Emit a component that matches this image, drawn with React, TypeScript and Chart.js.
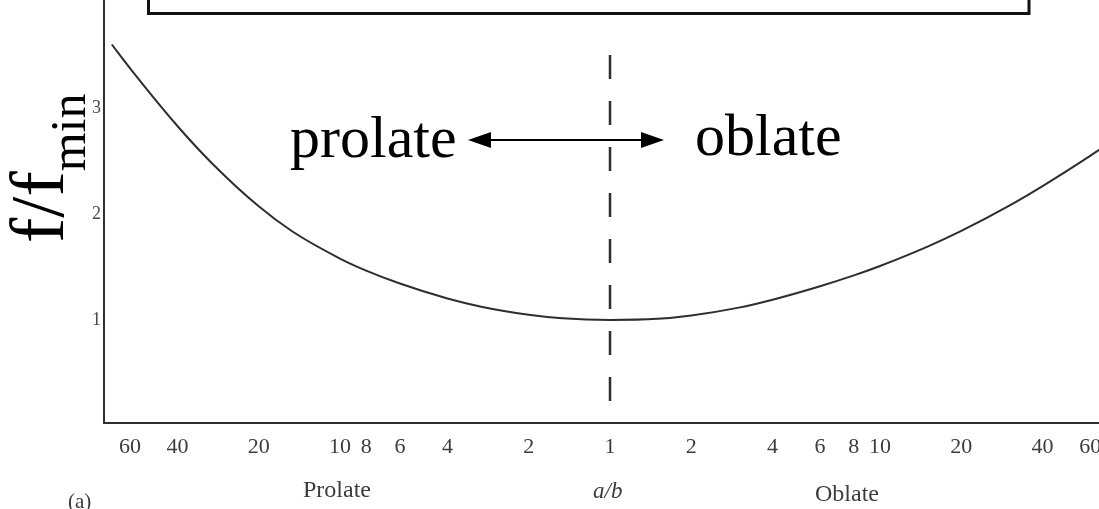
import React, { useEffect, useRef } from "react";
import { Chart, registerables } from "chart.js";

Chart.register(...registerables);

// Frequency ratio f/f_min against the axis ratio a/b, prolate side and oblate side
const prolateRatio = [70, 60, 40, 30, 20, 15, 10, 8, 6, 4, 3, 2, 1.5, 1];
const prolateFreq = [3.6, 3.377, 2.831, 2.487, 2.073, 1.835, 1.58, 1.466, 1.344, 1.203, 1.126, 1.05, 1.016, 1.0];
const oblateRatio = [1.5, 2, 3, 4, 6, 8, 10, 15, 20, 30, 40, 60, 65];
const oblateFreq = [1.011, 1.043, 1.117, 1.192, 1.319, 1.421, 1.51, 1.693, 1.841, 2.077, 2.264, 2.549, 2.609];

// Axis ratios labelled on both halves of the a/b axis
const tickRatios = [60, 40, 20, 10, 8, 6, 4, 2];
const yTicks = [1, 2, 3];

// The spherical case a/b = 1, marked by the dashed divider
const dividerTop = 3.5;

const SERIF = "'Liberation Serif', 'Times New Roman', serif";

// Prolate values sit left of centre, oblate values right, on a log10 axis
const toAxis = (ratio: number, side: "prolate" | "oblate") =>
  side === "prolate" ? -Math.log10(ratio) : Math.log10(ratio);

const xTicks = [
  ...tickRatios.map((r) => ({ pos: toAxis(r, "prolate"), label: String(r) })),
  { pos: 0, label: "1" },
  ...[...tickRatios].reverse().map((r) => ({ pos: toAxis(r, "oblate"), label: String(r) })),
];

const curvePoints = [
  ...prolateRatio.map((r, i) => ({ x: toAxis(r, "prolate"), y: prolateFreq[i] })),
  ...oblateRatio.map((r, i) => ({ x: toAxis(r, "oblate"), y: oblateFreq[i] })),
];

const overlay = {
  id: "overlay",
  afterDraw(chart: Chart) {
    const ctx = chart.ctx;
    ctx.save();

    // Open frame running off the top edge
    ctx.strokeStyle = "#111";
    ctx.lineWidth = 3;
    ctx.strokeRect(148.5, -6, 880.5, 19.5);

    // Region names and the double-headed arrow between them
    ctx.fillStyle = "#000";
    ctx.textBaseline = "alphabetic";
    ctx.textAlign = "left";
    ctx.font = `60px ${SERIF}`;
    ctx.fillText("prolate", 290, 157);
    ctx.fillText("oblate", 695, 155);

    const ay = 140;
    ctx.strokeStyle = "#000";
    ctx.lineWidth = 2;
    ctx.beginPath();
    ctx.moveTo(485, ay);
    ctx.lineTo(648, ay);
    ctx.stroke();
    ctx.beginPath();
    ctx.moveTo(468, ay);
    ctx.lineTo(491, ay - 8);
    ctx.lineTo(491, ay + 8);
    ctx.closePath();
    ctx.fill();
    ctx.beginPath();
    ctx.moveTo(664, ay);
    ctx.lineTo(641, ay - 8);
    ctx.lineTo(641, ay + 8);
    ctx.closePath();
    ctx.fill();

    // Vertical axis title f/f_min
    ctx.save();
    ctx.translate(63, 243);
    ctx.rotate(-Math.PI / 2);
    ctx.font = `76px ${SERIF}`;
    ctx.fillText("f/f", 0, 0);
    const w = ctx.measureText("f/f").width;
    ctx.font = `50px ${SERIF}`;
    ctx.fillText("min", w, 22);
    ctx.restore();

    // Labels under the a/b axis
    ctx.fillStyle = "#3c3c3c";
    ctx.font = `24px ${SERIF}`;
    ctx.fillText("Prolate", 303, 497);
    ctx.fillText("Oblate", 815, 501);
    ctx.font = `italic 23px ${SERIF}`;
    ctx.fillText("a/b", 593, 498);
    ctx.font = `21px ${SERIF}`;
    ctx.fillText("(a)", 68, 508);

    ctx.restore();
  },
};

export default function App() {
  const canvasRef = useRef<HTMLCanvasElement | null>(null);

  useEffect(() => {
    if (!canvasRef.current) return;
    const chart = new Chart(canvasRef.current, {
      type: "line",
      data: {
        datasets: [
          {
            data: curvePoints,
            borderColor: "#2e2e2e",
            borderWidth: 2,
            pointRadius: 0,
            cubicInterpolationMode: "monotone",
            fill: false,
          },
          {
            data: [
              { x: 0, y: dividerTop },
              { x: 0, y: 0 },
            ],
            borderColor: "#2e2e2e",
            borderWidth: 2.5,
            borderDash: [24, 22],
            pointRadius: 0,
            fill: false,
          },
        ],
      },
      options: {
        animation: false,
        responsive: false,
        devicePixelRatio: 1,
        layout: { padding: 0 },
        plugins: {
          legend: { display: false },
          tooltip: { enabled: false },
          title: { display: false },
        },
        scales: {
          x: {
            type: "linear",
            min: -1.874,
            max: 1.811,
            grid: { display: false, drawTicks: false },
            border: { display: true, color: "#2e2e2e", width: 2 },
            afterBuildTicks: (scale: any) => {
              scale.ticks = xTicks.map((t) => ({ value: t.pos }));
            },
            afterFit: (scale: any) => {
              scale.height = 86;
              scale.paddingLeft = 0;
              scale.paddingRight = 0;
            },
            ticks: {
              autoSkip: false,
              maxRotation: 0,
              padding: 11,
              color: "#3c3c3c",
              font: { family: SERIF, size: 22 },
              callback: (_v: any, i: number) => xTicks[i].label,
            },
          },
          y: {
            type: "linear",
            min: 0.028,
            max: 4.02,
            grid: { display: false, drawTicks: false },
            border: { display: true, color: "#2e2e2e", width: 2 },
            afterBuildTicks: (scale: any) => {
              scale.ticks = yTicks.map((v) => ({ value: v }));
            },
            afterFit: (scale: any) => {
              scale.width = 104;
              scale.paddingTop = 0;
              scale.paddingBottom = 0;
            },
            ticks: {
              padding: 3,
              color: "#4a4a4a",
              font: { family: SERIF, size: 18 },
            },
          },
        },
      },
      plugins: [overlay],
    });
    return () => chart.destroy();
  }, []);

  return (
    <div style={{ position: "fixed", left: 0, top: 0, width: 1099, height: 509, background: "#fff" }}>
      <canvas ref={canvasRef} width={1099} height={509} />
    </div>
  );
}
